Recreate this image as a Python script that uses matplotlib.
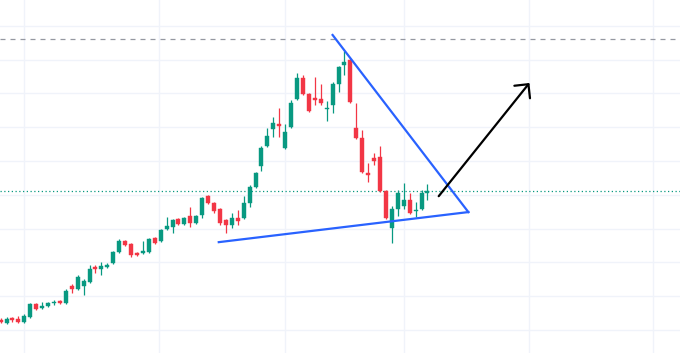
import matplotlib
matplotlib.use("Agg")
import matplotlib.pyplot as plt
import numpy as np

# OHLC (arbitrary price units, grid every 10)
opens = [13.0, 12.1, 13.6, 13.3, 12.4, 13.9, 17.7, 16.5, 17.1, 18.0,
         18.6, 18.0, 23.0, 22.1, 23.0, 24.2, 28.6, 28.1, 28.6, 29.8,
         33.1, 36.3, 35.5, 32.8, 32.8, 33.1, 37.2, 36.3, 39.9, 40.5,
         42.8, 41.4, 43.7, 41.7, 44.0, 49.7, 47.6, 45.8, 42.5, 41.1,
         43.1, 43.1, 47.6, 52.3, 58.5, 64.5, 69.5, 71.0, 63.9, 70.1,
         78.4, 84.6, 79.8, 78.7, 78.4, 75.4, 76.6, 82.8, 88.4, 89.9,
         69.8, 66.8, 56.5, 60.9, 61.2, 51.1, 40.2, 45.8, 46.7, 48.5,
         45.2, 45.8, 50.5]
highs = [13.6, 13.9, 13.9, 14.2, 14.7, 17.9, 17.9, 18.3, 18.3, 18.9,
         18.9, 22.1, 23.6, 26.3, 25.1, 29.2, 29.2, 30.1, 29.8, 33.4,
         36.9, 36.6, 35.8, 33.1, 36.3, 37.2, 37.5, 39.9, 43.4, 42.8,
         43.1, 43.4, 46.4, 44.0, 49.4, 50.0, 47.9, 46.1, 42.8, 44.6,
         45.5, 49.7, 52.9, 56.8, 64.5, 69.8, 73.0, 75.7, 71.0, 78.1,
         86.1, 85.5, 80.1, 84.9, 82.8, 77.8, 83.4, 88.1, 92.6, 90.5,
         77.2, 69.2, 59.4, 62.4, 64.5, 51.4, 46.7, 51.4, 53.5, 50.5,
         47.9, 51.4, 53.2]
lows = [12.1, 11.8, 12.4, 12.1, 12.1, 13.6, 15.9, 16.2, 16.8, 17.4,
        17.7, 17.8, 21.0, 21.8, 20.4, 23.9, 26.9, 26.3, 28.3, 29.5,
        32.8, 34.9, 31.6, 31.9, 32.5, 32.8, 35.5, 36.0, 39.6, 38.7,
        41.1, 41.1, 40.5, 41.4, 43.1, 47.3, 44.6, 41.1, 38.7, 40.2,
        41.1, 42.8, 46.4, 52.0, 57.1, 64.2, 67.1, 67.1, 63.6, 69.8,
        78.1, 79.5, 74.5, 76.6, 76.6, 71.8, 74.2, 80.4, 85.5, 77.2,
        66.5, 56.5, 53.8, 58.8, 50.8, 42.8, 35.8, 43.7, 45.8, 44.3,
        43.4, 45.5, 48.5]
closes = [12.4, 13.3, 13.0, 12.4, 14.2, 17.7, 16.2, 17.1, 18.0, 18.3,
          18.0, 21.5, 22.1, 25.7, 24.5, 28.1, 28.1, 28.9, 29.2, 33.1,
          36.3, 35.2, 32.2, 32.2, 33.4, 36.9, 35.8, 39.6, 40.8, 42.5,
          41.4, 43.1, 41.7, 43.7, 49.1, 47.6, 45.2, 41.7, 41.1, 43.1,
          42.3, 47.6, 52.3, 56.5, 63.9, 67.4, 71.3, 70.4, 68.6, 77.2,
          84.6, 79.8, 74.8, 78.1, 77.2, 75.7, 82.8, 87.8, 89.3, 77.5,
          66.8, 56.8, 55.9, 60.0, 51.1, 43.1, 45.8, 50.5, 48.5, 44.6,
          45.5, 50.5, 51.1]

# drawings (bar index, price)
falling_line = [(56.0, 97.3), (78.9, 44.9)]
rising_line = [(36.8, 36.0), (78.9, 44.9)]
arrow_from = (73.9, 49.6)
arrow_to = (89.2, 83.1)
dashed_level = 96.1
last_price = closes[-1]

time_grid = [4.0, 26.8, 47.9, 68.1, 89.2, 110.1]
price_grid = np.arange(10, 101, 10)

up_col = "#089981"
down_col = "#f23645"

fig = plt.figure(figsize=(6.8, 3.53), dpi=100)
ax = fig.add_axes([0, 0, 1, 1])

x = np.arange(len(opens))
for i in x:
    o, h, l, c = opens[i], highs[i], lows[i], closes[i]
    col = up_col if c >= o else down_col
    ax.vlines(i, l, h, color=col, lw=0.9, zorder=3)
    ax.bar(i, max(abs(c - o), 0.25), bottom=min(o, c), width=0.68,
           color=col, edgecolor=col, lw=0.3, zorder=4)

ax.axhline(dashed_level, color="#9598a1", lw=0.9, ls=(0, (4, 4)), zorder=2)
ax.axhline(last_price, color=up_col, lw=0.9, ls=(0, (1, 2)), zorder=2)

ax.plot(*zip(*falling_line), color="#2962ff", lw=1.6, zorder=5)
ax.plot(*zip(*rising_line), color="#2962ff", lw=1.6, zorder=5)
ax.annotate("", xy=arrow_to, xytext=arrow_from,
            arrowprops=dict(arrowstyle="->,head_length=0.45,head_width=0.45",
                            color="black", lw=1.6, mutation_scale=16,
                            shrinkA=0, shrinkB=0), zorder=6)

ax.set_xticks(time_grid)
ax.set_yticks(price_grid)
ax.grid(True, color="#f0f3fa", lw=1.0, zorder=0)
ax.tick_params(length=0, labelbottom=False, labelleft=False)
for s in ax.spines.values():
    s.set_visible(False)

ax.set_xlim(-0.1, 114.6)
ax.set_ylim(3.2, 107.65)

fig.savefig("out.png", dpi=100)
